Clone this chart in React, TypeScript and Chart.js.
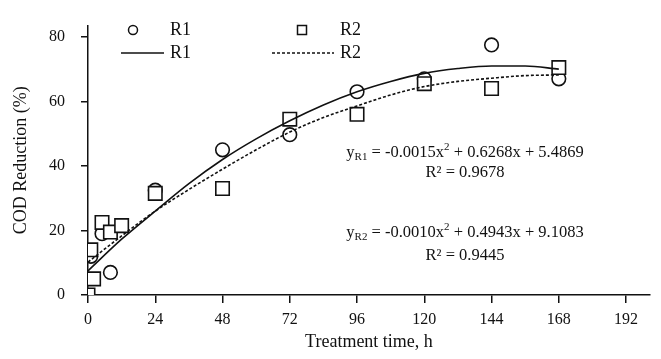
import { useEffect, useRef } from 'react';
import { Chart, registerables } from 'chart.js';

Chart.register(...registerables);

// ---- data ----
const r1Time = [1, 5, 8, 24, 48, 72, 96, 120, 144, 168];
const r1Cod = [12, 19, 7, 32.5, 45, 49.7, 63, 67, 77.5, 67];
const r2Time = [0, 2, 1, 5, 8, 12, 24, 48, 72, 96, 120, 144, 168];
const r2Cod = [0, 5, 14, 22.5, 19.5, 21.5, 31.5, 33, 54.5, 56, 65.5, 64, 70.5];
const fitTime = [0, 12, 24, 36, 48, 60, 72, 84, 96, 108, 120, 132, 144, 156, 168];
const fitR1 = [7.5, 17.3, 26, 34.5, 42, 48.4, 54, 58.9, 63, 66.2, 68.7, 70.2, 71, 71, 70];
const fitR2 = [10.2, 18.3, 26, 32.7, 39, 45, 50.5, 55, 58.6, 62, 64.6, 66.2, 67.2, 68, 68.2];
const xTicks = [0, 24, 48, 72, 96, 120, 144, 168, 192];
const yTicks = [0, 20, 40, 60, 80];
const seriesNames = ['R1', 'R2'];
const eqR1 = ['y', 'R1', ' = -0.0015x', '2', ' + 0.6268x + 5.4869'];
const r2R1 = 'R² = 0.9678';
const eqR2 = ['y', 'R2', ' = -0.0010x', '2', ' + 0.4943x + 9.1083'];
const r2R2 = 'R² = 0.9445';

const FONT = '"Liberation Serif", "Times New Roman", serif';
const INK = '#111';

const zip = (xs: number[], ys: number[]) => xs.map((x, i) => ({ x, y: ys[i] }));

function drawParts(ctx: CanvasRenderingContext2D, parts: { t: string; s: number; dy: number }[], cx: number, y: number) {
  let total = 0;
  const widths = parts.map((p) => {
    ctx.font = `${p.s}px ${FONT}`;
    const w = ctx.measureText(p.t).width;
    total += w;
    return w;
  });
  let x = cx - total / 2;
  parts.forEach((p, i) => {
    ctx.font = `${p.s}px ${FONT}`;
    ctx.fillText(p.t, x, y + p.dy);
    x += widths[i];
  });
}

const overlayPlugin = {
  id: 'overlay',
  afterDraw(chart: any) {
    const ctx: CanvasRenderingContext2D = chart.ctx;
    ctx.save();
    ctx.fillStyle = INK;
    ctx.strokeStyle = INK;
    ctx.textAlign = 'left';
    // legend
    const row1 = 30, row2 = 53;
    ctx.lineWidth = 1.5;
    ctx.beginPath();
    ctx.arc(133, row1, 4.5, 0, Math.PI * 2);
    ctx.stroke();
    ctx.strokeRect(297.5, row1 - 4.5, 9, 9);
    ctx.font = `18px ${FONT}`;
    ctx.textBaseline = 'middle';
    ctx.fillText(seriesNames[0], 170, row1);
    ctx.fillText(seriesNames[1], 340, row1);
    ctx.beginPath();
    ctx.moveTo(121, row2);
    ctx.lineTo(164, row2);
    ctx.stroke();
    ctx.setLineDash([3, 2]);
    ctx.beginPath();
    ctx.moveTo(272, row2);
    ctx.lineTo(334, row2);
    ctx.stroke();
    ctx.setLineDash([]);
    ctx.fillText(seriesNames[0], 170, row2);
    ctx.fillText(seriesNames[1], 340, row2);
    // equations
    ctx.textBaseline = 'alphabetic';
    const mk = (e: string[]) => [
      { t: e[0], s: 16.5, dy: 0 },
      { t: e[1], s: 11, dy: 3 },
      { t: e[2], s: 16.5, dy: 0 },
      { t: e[3], s: 11, dy: -7 },
      { t: e[4], s: 16.5, dy: 0 },
    ];
    drawParts(ctx, mk(eqR1), 465, 157);
    drawParts(ctx, [{ t: r2R1, s: 16.5, dy: 0 }], 465, 177);
    drawParts(ctx, mk(eqR2), 465, 237);
    drawParts(ctx, [{ t: r2R2, s: 16.5, dy: 0 }], 465, 260);
    ctx.restore();
  },
};

export default function App() {
  const ref = useRef<HTMLCanvasElement | null>(null);
  useEffect(() => {
    if (!ref.current) return;
    const chart = new Chart(ref.current, {
      type: 'scatter',
      data: {
        datasets: [
          {
            label: 'R1 fit',
            data: zip(fitTime, fitR1),
            showLine: true,
            borderColor: INK,
            borderWidth: 1.6,
            pointRadius: 0,
            cubicInterpolationMode: 'monotone',
            order: 0,
          } as any,
          {
            label: 'R2 fit',
            data: zip(fitTime, fitR2),
            showLine: true,
            borderColor: INK,
            borderWidth: 1.6,
            borderDash: [3, 2],
            pointRadius: 0,
            cubicInterpolationMode: 'monotone',
            order: 0,
          } as any,
          {
            label: 'R2',
            data: zip(r2Time, r2Cod),
            pointStyle: 'rect',
            pointRadius: 9.5,
            borderColor: INK,
            backgroundColor: '#fff',
            borderWidth: 1.6,
            order: 1,
          },
          {
            label: 'R1',
            data: zip(r1Time, r1Cod),
            pointStyle: 'circle',
            pointRadius: 6.8,
            borderColor: INK,
            backgroundColor: '#fff',
            borderWidth: 1.6,
            order: 2,
          },
        ],
      },
      options: {
        responsive: false,
        animation: false,
        layout: { padding: { left: 0, right: 6, top: 20, bottom: 0 } },
        plugins: { legend: { display: false }, tooltip: { enabled: false } },
        scales: {
          x: {
            type: 'linear',
            min: 0,
            max: 200.5,
            afterBuildTicks: (s: any) => {
              s.ticks = xTicks.map((v) => ({ value: v }));
            },
            afterFit: (s: any) => {
              s.height = 64;
            },
            ticks: { font: { family: FONT, size: 16 }, color: INK, padding: 7, maxRotation: 0, autoSkip: false },
            grid: { drawOnChartArea: false, drawTicks: true, tickLength: 8, color: INK, lineWidth: 1.5 },
            border: { display: true, color: INK, width: 1.5 },
            title: {
              display: true,
              text: 'Treatment time, h',
              font: { family: FONT, size: 18 },
              color: INK,
              padding: { top: 0, bottom: 6 },
            },
          },
          y: {
            type: 'linear',
            min: 0,
            max: 83.5,
            afterBuildTicks: (s: any) => {
              s.ticks = yTicks.map((v) => ({ value: v }));
            },
            afterFit: (s: any) => {
              s.width = 88;
            },
            ticks: { font: { family: FONT, size: 16 }, color: INK, padding: 16 },
            grid: { drawOnChartArea: false, drawTicks: true, tickLength: 7, color: INK, lineWidth: 1.5 },
            border: { display: true, color: INK, width: 1.5 },
            title: {
              display: true,
              text: 'COD Reduction (%)',
              font: { family: FONT, size: 18 },
              color: INK,
              padding: { top: 10, bottom: 0 },
            },
          },
        },
      },
      plugins: [overlayPlugin],
    });
    return () => chart.destroy();
  }, []);
  return (
    <div style={{ position: 'fixed', left: 0, top: 0, width: 661, height: 359, background: '#fff' }}>
      <canvas ref={ref} width={661} height={359} style={{ display: 'block' }} />
    </div>
  );
}
